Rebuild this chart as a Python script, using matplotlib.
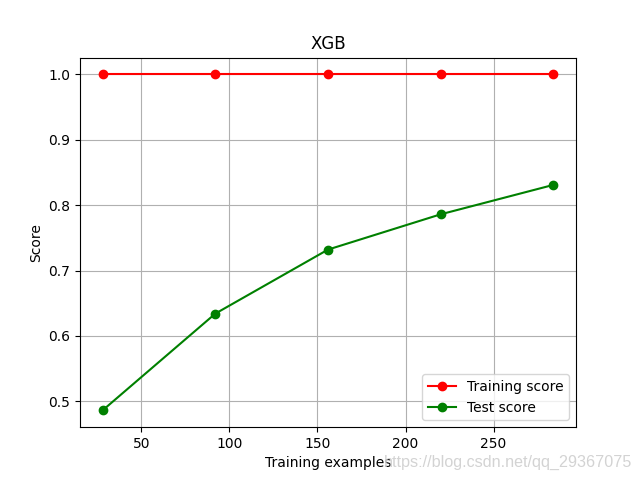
import numpy as np
import matplotlib
matplotlib.use("Agg")
import matplotlib.pyplot as plt

# learning curve values
train_sizes = [28, 92, 156, 220, 284]
train_scores = [1.0, 1.0, 1.0, 1.0, 1.0]
test_scores = [0.486, 0.634, 0.732, 0.786, 0.831]

fig = plt.figure(figsize=(6.4, 4.8), dpi=100)
plt.title("XGB")
plt.xlabel("Training examples")
plt.ylabel("Score")
plt.grid()
plt.plot(train_sizes, train_scores, 'o-', color="r", label="Training score")
plt.plot(train_sizes, test_scores, 'o-', color="g", label="Test score")
plt.legend(loc="best")

# watermark
fig.text(0.987, 0.036, "https://blog.csdn.net/qq_29367075", ha="right", va="center",
         fontsize=11.6, color="#d3d3d3", family="Liberation Sans")

plt.savefig("out.png")
